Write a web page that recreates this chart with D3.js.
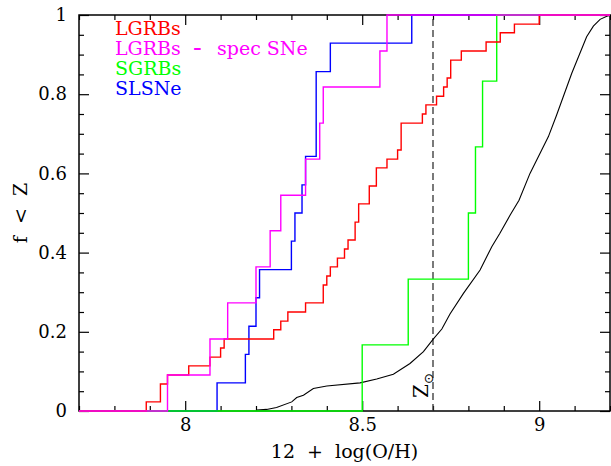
<!DOCTYPE html>
<html>
<head>
<meta charset="utf-8">
<script src="https://cdn.jsdelivr.net/npm/d3@7"></script>
<style>
  html, body { margin: 0; padding: 0; background: #fff; }
  svg { display: block; }
  text { font-family: "DejaVu Serif", "Liberation Serif", serif; white-space: pre; }
</style>
</head>
<body>
<svg id="chart" width="611" height="466"></svg>
<script>
// ---- data ----
// LGRBs (red) cumulative distribution: step positions and fraction after each step
const lgrbZ = [7.89, 7.93, 7.95, 8.01, 8.07, 8.10, 8.11, 8.25, 8.27, 8.29, 8.34, 8.39, 8.40, 8.41, 8.43, 8.45, 8.46, 8.48, 8.49, 8.52, 8.54, 8.57, 8.60, 8.61, 8.67, 8.68, 8.71, 8.73, 8.74, 8.75, 8.78, 8.85, 8.89, 8.93, 9.00];
const lgrbF = [0.023, 0.068, 0.091, 0.114, 0.136, 0.159, 0.182, 0.205, 0.227, 0.25, 0.273, 0.318, 0.341, 0.364, 0.386, 0.409, 0.432, 0.477, 0.523, 0.568, 0.614, 0.636, 0.659, 0.727, 0.75, 0.773, 0.795, 0.818, 0.841, 0.886, 0.909, 0.932, 0.955, 0.977, 1.0];
// LGRBs - spec SNe (magenta)
const specZ = [7.95, 8.07, 8.12, 8.20, 8.24, 8.27, 8.34, 8.38, 8.39, 8.55, 8.57];
const specF = [0.091, 0.182, 0.273, 0.364, 0.455, 0.545, 0.636, 0.727, 0.818, 0.909, 1.0];
// SGRBs (green)
const sgrbZ = [8.50, 8.63, 8.80, 8.82, 8.84, 8.88];
const sgrbF = [0.167, 0.333, 0.5, 0.667, 0.833, 1.0];
// SLSNe (blue)
const slsnZ = [8.09, 8.17, 8.18, 8.20, 8.21, 8.30, 8.31, 8.33, 8.34, 8.37, 8.41, 8.64];
const slsnF = [0.071, 0.143, 0.214, 0.286, 0.357, 0.429, 0.5, 0.571, 0.643, 0.857, 0.929, 1.0];
// smooth comparison curve (black)
const curveZ = [8.202, 8.230, 8.258, 8.301, 8.315, 8.334, 8.362, 8.400, 8.494, 8.541, 8.588, 8.635, 8.673, 8.700, 8.725, 8.748, 8.786, 8.833, 8.866, 8.889, 8.918, 8.943, 8.974, 9.026, 9.049, 9.092, 9.134, 9.153, 9.172, 9.191, 9.203];
const curveF = [0.0025, 0.004, 0.009, 0.023, 0.034, 0.040, 0.057, 0.063, 0.071, 0.081, 0.093, 0.120, 0.150, 0.181, 0.207, 0.245, 0.297, 0.356, 0.415, 0.449, 0.495, 0.532, 0.600, 0.693, 0.747, 0.853, 0.945, 0.972, 0.989, 0.997, 1.0];
const solarZ = 8.7;

const xMajor = [8, 8.5, 9];
const yMajor = [0, 0.2, 0.4, 0.6, 0.8, 1];
const legendLabels = [["LGRBs"], ["LGRBs", "-", "spec SNe"], ["SGRBs"], ["SLSNe"]];
const legendColors = ["#ff0000", "#ff00ff", "#00ff00", "#0000ff"];

// ---- layout ----
const L = 79, R = 610, T = 15, B = 411;
const svg = d3.select("#chart");
const x = d3.scaleLinear().domain([7.7, 9.2]).range([L, R]);
const y = d3.scaleLinear().domain([0, 1]).range([B, T]);

svg.append("defs").append("clipPath").attr("id", "clip")
  .append("rect").attr("x", L - 1).attr("y", T - 1).attr("width", R - L + 2).attr("height", B - T + 2);

const xMinor = d3.range(77, 93).map(d => d / 10).filter(d => xMajor.indexOf(d) < 0);
const yMinor = d3.range(0, 21).map(d => d / 20).filter(d => yMajor.every(m => Math.abs(m - d) > 1e-9));

const fmtY = d => (d === 0 ? "0" : d === 1 ? "1" : d3.format(".1f")(d));
function styleAxis(g) {
  g.select(".domain").remove();
  g.selectAll(".tick line").attr("stroke", "#000").attr("stroke-width", 1.2);
  g.selectAll("text").attr("font-size", 18).attr("fill", "#000")
    .style("font-family", "'DejaVu Serif', serif");
}
// bottom
svg.append("g").attr("transform", `translate(0,${B})`)
  .call(d3.axisBottom(x).tickValues(xMajor).tickSize(-10).tickPadding(7).tickFormat(d3.format("")))
  .call(styleAxis);
svg.append("g").attr("transform", `translate(0,${B})`)
  .call(d3.axisBottom(x).tickValues(xMinor).tickSize(-5).tickFormat(""))
  .call(styleAxis);
// top
svg.append("g").attr("transform", `translate(0,${T})`)
  .call(d3.axisTop(x).tickValues(xMajor).tickSize(-10).tickFormat(""))
  .call(styleAxis);
svg.append("g").attr("transform", `translate(0,${T})`)
  .call(d3.axisTop(x).tickValues(xMinor).tickSize(-5).tickFormat(""))
  .call(styleAxis);
// left
svg.append("g").attr("transform", `translate(${L},0)`)
  .call(d3.axisLeft(y).tickValues(yMajor).tickSize(-10).tickPadding(12).tickFormat(fmtY))
  .call(styleAxis);
svg.append("g").attr("transform", `translate(${L},0)`)
  .call(d3.axisLeft(y).tickValues(yMinor).tickSize(-5).tickFormat(""))
  .call(styleAxis);
// right
svg.append("g").attr("transform", `translate(${R},0)`)
  .call(d3.axisRight(y).tickValues(yMajor).tickSize(-10).tickFormat(""))
  .call(styleAxis);
svg.append("g").attr("transform", `translate(${R},0)`)
  .call(d3.axisRight(y).tickValues(yMinor).tickSize(-5).tickFormat(""))
  .call(styleAxis);

// frame
svg.append("rect").attr("x", L).attr("y", T).attr("width", R - L).attr("height", B - T)
  .attr("fill", "none").attr("stroke", "#000").attr("stroke-width", 1.5);

// solar metallicity line
svg.append("line")
  .attr("x1", x(solarZ)).attr("x2", x(solarZ)).attr("y1", y(0)).attr("y2", y(1))
  .attr("stroke", "#333").attr("stroke-width", 1.3).attr("stroke-dasharray", "7,4");
const zs = svg.append("text")
  .attr("transform", `translate(${x(solarZ) - 5},${y(0) - 13}) rotate(-90)`)
  .attr("font-size", 20).attr("fill", "#000");
zs.append("tspan").text("Z");
zs.append("tspan").attr("font-size", 13).attr("dy", 5).attr("font-family", "'DejaVu Sans', sans-serif").text("\u2299");

// data lines
const plot = svg.append("g").attr("clip-path", "url(#clip)");
const stepLine = d3.line().x(d => x(d[0])).y(d => y(d[1])).curve(d3.curveStepAfter);
function stepPts(zArr, fArr) {
  const pts = [[7.7, 0]];
  zArr.forEach((z, i) => pts.push([z, fArr[i]]));
  pts.push([9.2, fArr[fArr.length - 1]]);
  return pts;
}
const smooth = d3.line().x(d => x(d[0])).y(d => y(d[1]));
plot.append("path").datum(curveZ.map((z, i) => [z, curveF[i]]))
  .attr("d", smooth).attr("fill", "none").attr("stroke", "#000").attr("stroke-width", 1.1);

const series = [
  { z: slsnZ, f: slsnF, c: legendColors[3] },
  { z: sgrbZ, f: sgrbF, c: legendColors[2] },
  { z: lgrbZ, f: lgrbF, c: legendColors[0] },
  { z: specZ, f: specF, c: legendColors[1] }
];
series.forEach(s => {
  plot.append("path").datum(stepPts(s.z, s.f))
    .attr("d", stepLine).attr("fill", "none").attr("stroke", s.c)
    .attr("stroke-width", 1.4).attr("stroke-linejoin", "miter");
});

// legend
const partX = [115, 193, 217];
legendLabels.forEach((parts, i) => {
  parts.forEach((p, j) => {
    svg.append("text").attr("x", partX[j]).attr("y", 35 + i * 20 + (p === "-" ? 1 : 0))
      .attr("font-size", p === "-" ? 26 : 19).attr("fill", legendColors[i]).text(p);
  });
});

// axis titles
svg.append("text").attr("x", (L + R) / 2).attr("y", 458).attr("text-anchor", "middle")
  .attr("font-size", 19).attr("fill", "#000").text("12  +  log(O/H)");
svg.append("text").attr("transform", `translate(27,${(T + B) / 2}) rotate(-90)`)
  .attr("text-anchor", "middle").attr("font-size", 19).attr("fill", "#000").text("f  <  Z");
</script>
</body>
</html>
